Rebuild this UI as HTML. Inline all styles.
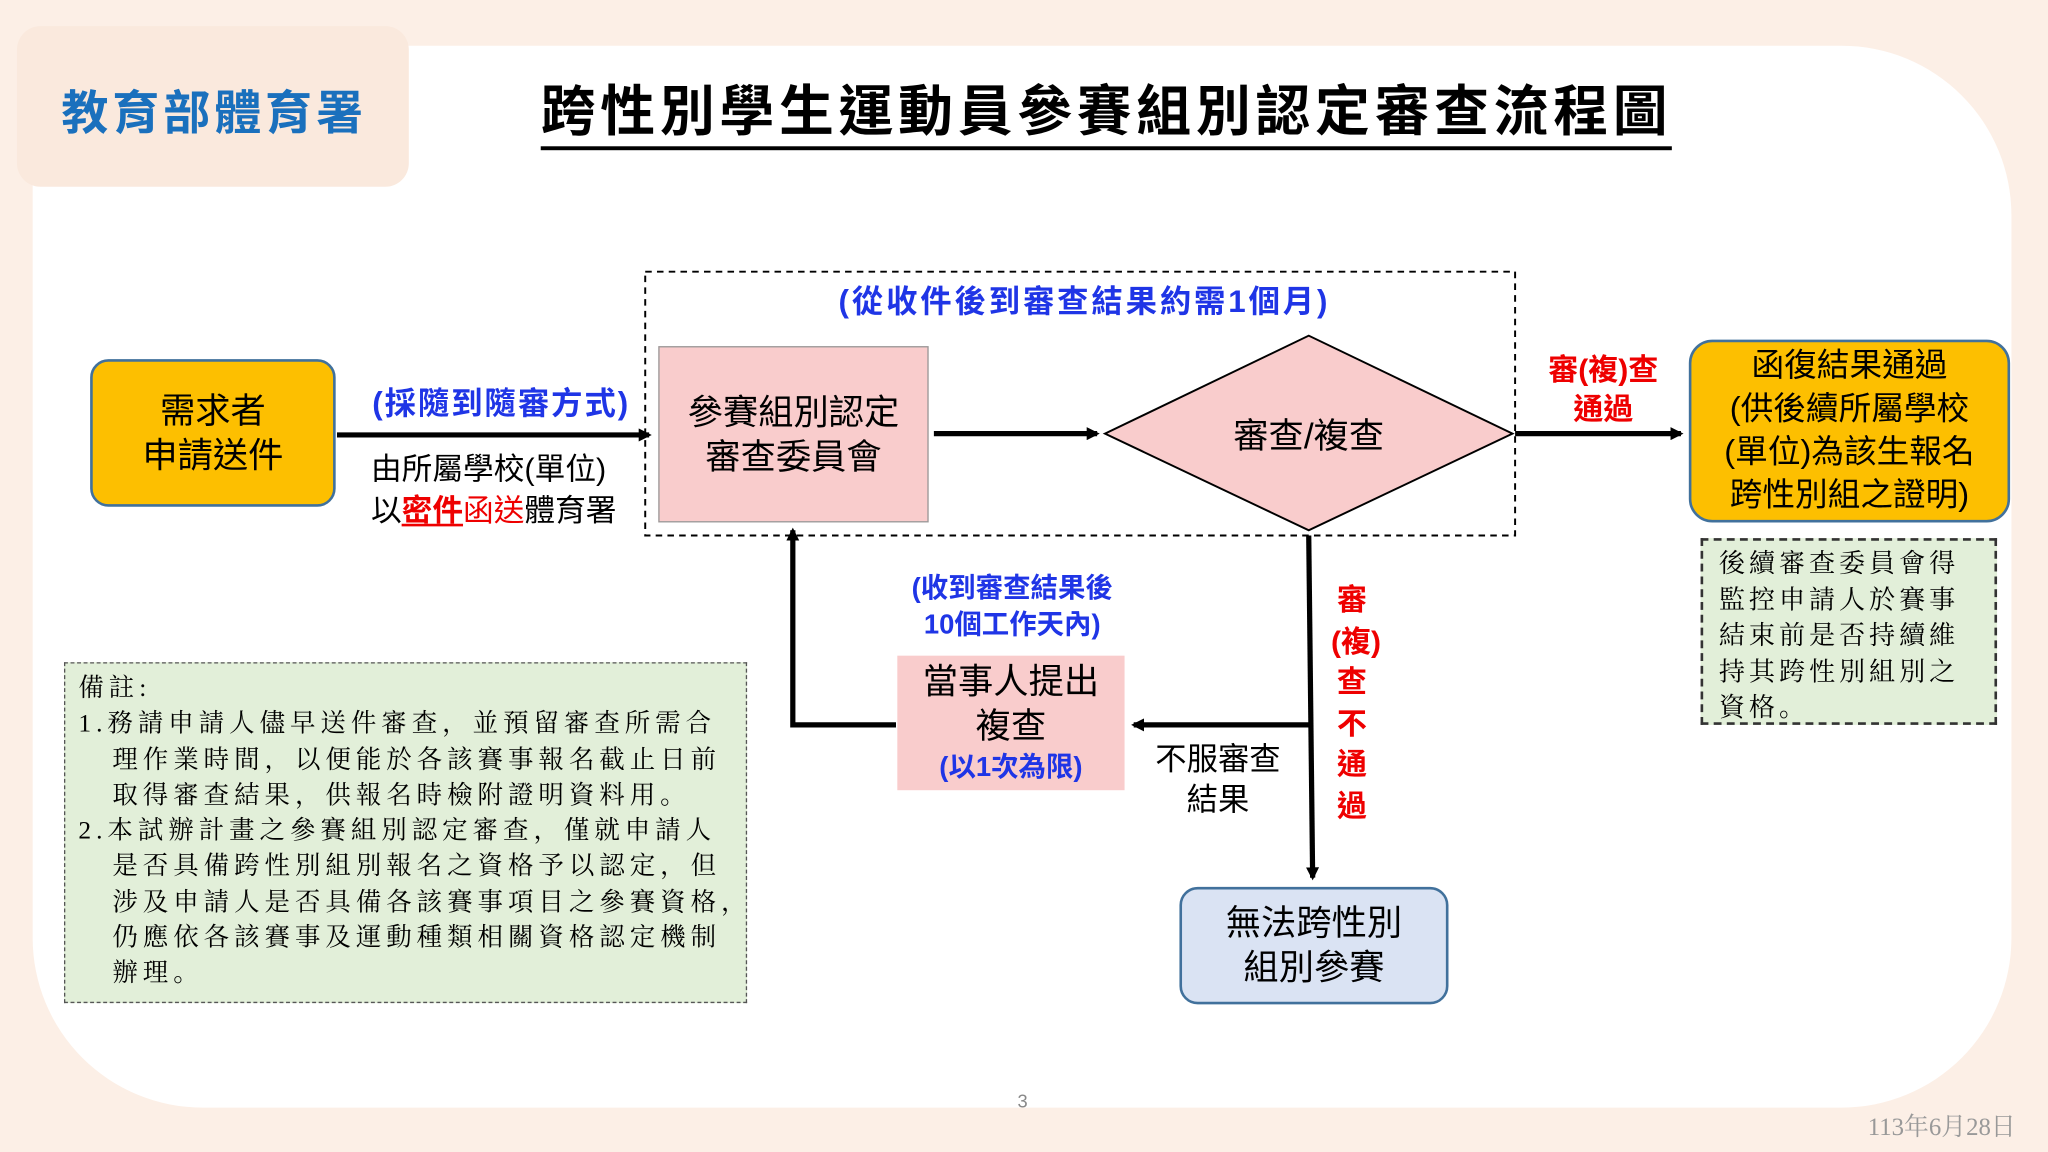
<!DOCTYPE html>
<html><head><meta charset="utf-8"><style>
*{margin:0;padding:0;box-sizing:border-box}
html,body{width:2048px;height:1152px;overflow:hidden;background:#fcefe6}
#s{position:absolute;left:0;top:0;width:1568px;height:882px;transform:scale(1.306122);transform-origin:0 0;font-family:"Liberation Sans","Noto Sans CJK TC",sans-serif}
.a{position:absolute}
.c{display:flex;align-items:center;justify-content:center;text-align:center;flex-direction:column}
.serif{font-family:"Liberation Serif","Noto Serif CJK SC",serif}
</style></head><body><div id="s">
<div class="a" style="left:25px;top:35px;width:1515px;height:813px;background:#fff;border-radius:0 130px 130px 130px"></div>
<div class="a" style="left:13px;top:20px;width:300px;height:123px;background:#fae9dd;border-radius:18px"></div>
<div class="a" style="left:47px;top:58px;font-size:36px;font-weight:bold;color:#1a70bd;letter-spacing:3px">教育部體育署</div>
<div class="a" style="left:414px;top:60px;font-size:42px;font-weight:bold;color:#000;border-bottom:3px solid #000;line-height:52px;letter-spacing:3.6px">跨性別學生運動員參賽組別認定審查流程圖</div>

<svg class="a" style="left:0;top:0" width="1568" height="882">
<defs><marker id="ar" markerWidth="10" markerHeight="10" refX="8" refY="5" orient="auto" markerUnits="userSpaceOnUse"><path d="M0,0 L10,5 L0,10z" fill="#000"/></marker></defs>
<rect x="494" y="208" width="666" height="202" fill="none" stroke="#000" stroke-width="1.5" stroke-dasharray="5,4"/>
<g stroke="#000" stroke-width="4" fill="none">
<line x1="258" y1="333" x2="497" y2="333" marker-end="url(#ar)"/>
<line x1="715" y1="332" x2="840" y2="332" marker-end="url(#ar)"/>
<line x1="1160" y1="332" x2="1287" y2="332" marker-end="url(#ar)"/>
<line x1="1002" y1="410" x2="1005" y2="672" marker-end="url(#ar)"/>
<line x1="1002" y1="555" x2="868" y2="555" marker-end="url(#ar)"/>
<polyline points="686,555 607,555 607,406" marker-end="url(#ar)"/>
</g>
<polygon points="846,332 1002,257 1158,332 1002,406" fill="#f9cccc" stroke="#000" stroke-width="1.5"/>
</svg>

<div class="a c" style="left:69px;top:275px;width:188px;height:113px;background:#fdbf00;border:2px solid #41719c;border-radius:14px;font-size:27px;line-height:34px">需求者<br>申請送件</div>
<div class="a" style="left:285px;top:289px;font-size:24px;font-weight:bold;color:#1f35e6;letter-spacing:1.5px">(採隨到隨審方式)</div>
<div class="a" style="left:284px;top:343px;font-size:23.5px;line-height:32px">由所屬學校(單位)<br>以<b style="color:#e00;text-decoration:underline">密件</b><span style="color:#e00">函送</span>體育署</div>
<div class="a" style="left:642px;top:211px;font-size:24px;font-weight:bold;color:#1f35e6;letter-spacing:2.2px">(從收件後到審查結果約需1個月)</div>
<div class="a c" style="left:504px;top:265px;width:207px;height:135px;background:#f9cccc;border:1px solid #999;font-size:27px;line-height:34px">參賽組別認定<br>審查委員會</div>
<div class="a c" style="left:900px;top:312px;width:204px;font-size:27px">審查/複查</div>
<div class="a c" style="left:1170px;top:268px;width:115px;font-size:23px;font-weight:bold;color:#e00;line-height:30px">審(複)查<br>通過</div>
<div class="a c" style="left:1293px;top:260px;width:246px;height:140px;background:#fdbf00;border:2px solid #41719c;border-radius:18px;font-size:25px;line-height:33px">函復結果通過<br>(供後續所屬學校<br>(單位)為該生報名<br>跨性別組之證明)</div>
<div class="a serif" style="left:1302px;top:412px;width:227px;height:143px;background:#e2efd9;border:2px dashed #333;padding:5px 12px;font-size:20px;line-height:27.5px;letter-spacing:3px">後續審查委員會得監控申請人於賽事結束前是否持續維持其跨性別組別之資格。</div>
<div class="a c" style="left:680px;top:437px;width:190px;font-size:21px;font-weight:bold;color:#1f35e6;line-height:28px">(收到審查結果後<br>10個工作天內)</div>
<div class="a c" style="left:687px;top:502px;width:174px;height:103px;background:#f9cccc;font-size:27px;line-height:34px">當事人提出<br>複查<span style="font-size:21px;font-weight:bold;color:#1f35e6;line-height:30px">(以1次為限)</span></div>
<div class="a c" style="left:875px;top:566px;width:115px;font-size:24px;line-height:31px">不服審查<br>結果</div>
<div class="a" style="left:1019px;top:444px;width:32px;font-size:23px;font-weight:bold;color:#e00;line-height:31.5px;text-align:center">審<br>(複)<br>查<br>不<br>通<br>過</div>
<div class="a c" style="left:903px;top:679px;width:206px;height:90px;background:#dae3f3;border:2px solid #41719c;border-radius:14px;font-size:27px;line-height:34px">無法跨性別<br>組別參賽</div>
<div class="a serif" style="left:49px;top:507px;width:523px;height:261px;background:#e2efd9;border:1.5px dashed #555;padding:6px 10px;font-size:19.5px;line-height:27.3px;letter-spacing:3.8px;white-space:nowrap">備註:<br>1.務請申請人儘早送件審查，並預留審查所需合<br>&nbsp;&nbsp;&nbsp;理作業時間，以便能於各該賽事報名截止日前<br>&nbsp;&nbsp;&nbsp;取得審查結果，供報名時檢附證明資料用。<br>2.本試辦計畫之參賽組別認定審查，僅就申請人<br>&nbsp;&nbsp;&nbsp;是否具備跨性別組別報名之資格予以認定，但<br>&nbsp;&nbsp;&nbsp;涉及申請人是否具備各該賽事項目之參賽資格，<br>&nbsp;&nbsp;&nbsp;仍應依各該賽事及運動種類相關資格認定機制<br>&nbsp;&nbsp;&nbsp;辦理。</div>
<div class="a" style="left:779px;top:835px;font-size:14px;color:#888">3</div>
<div class="a serif" style="left:1430px;top:848px;font-size:19px;color:#999">113年6月28日</div>
</div></body></html>
